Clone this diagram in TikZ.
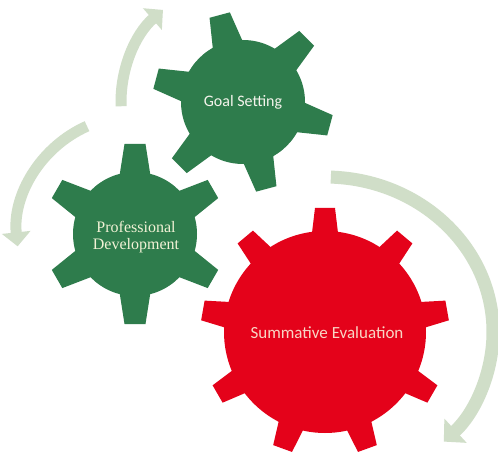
\documentclass[tikz,border=0pt]{standalone}
\usepackage{fontspec}
\setmainfont{Carlito}
\newfontfamily\pdfont{Liberation Serif}
\usepackage{tikz}
\usetikzlibrary{calc,arrows.meta}
\definecolor{geargreen}{RGB}{46,124,76}
\definecolor{gearred}{RGB}{228,2,26}
\definecolor{cyclegreen}{RGB}{208,222,200}
\tikzset{
  cyclearrow/.style={draw=cyclegreen, line width=11pt, -{Triangle[width=28pt,length=14pt]}},
  geartext/.style={align=center, inner sep=0pt}
}
\begin{document}
\begin{tikzpicture}[x=1pt,y=1pt]
\useasboundingbox[fill=white] (0,0) rectangle (498,461);
\coordinate (goal) at (243,359);
\coordinate (pd) at (135,227);
\coordinate (red) at (325,129);
\draw[cyclearrow] ($(goal)+(182:122)$) arc[start angle=182, end angle=131, radius=122pt];
\draw[cyclearrow] ($(pd)+(114:118)$) arc[start angle=114, end angle=186, radius=118pt];
\draw[cyclearrow, line width=13pt, -{Triangle[width=32pt,length=16pt]}]
($(red)+(88:168 and 155)$) arc[start angle=88, end angle=-45, x radius=168pt, y radius=155pt];
\fill[geargreen] (goal) circle[radius=62];
\foreach \a in {105,45,...,-195}
  \fill[geargreen, shift={(goal)}, rotate=\a] (55,-16) -- (90,-10.5) -- (90,10.5) -- (55,16) -- cycle;
\fill[geargreen] (pd) circle[radius=62];
\foreach \a in {90,30,...,-210}
  \fill[geargreen, shift={(pd)}, rotate=\a] (55,-16) -- (90,-10.5) -- (90,10.5) -- (55,16) -- cycle;
\fill[gearred] (red) circle[radius=101];
\foreach \a in {90,50,...,-230}
  \fill[gearred, shift={(red)}, rotate=\a] (95,-13.5) -- (124,-10) -- (124,10) -- (95,13.5) -- cycle;
\node[geartext, text={rgb,255:red,244;green,244;blue,236}, font=\fontsize{16}{18}\selectfont] (goaltext) at (goal) {Goal Setting};
\node[geartext, text={rgb,255:red,242;green,242;blue,214}, font=\pdfont\fontsize{16}{17}\selectfont] (pdtext) at ($(pd)+(1,-3)$) {Professional\\Development};
\node[geartext, text={rgb,255:red,248;green,214;blue,196}, font=\fontsize{17}{20}\selectfont] (redtext) at ($(red)+(2,-1)$) {Summative Evaluation};
\end{tikzpicture}
\end{document}
